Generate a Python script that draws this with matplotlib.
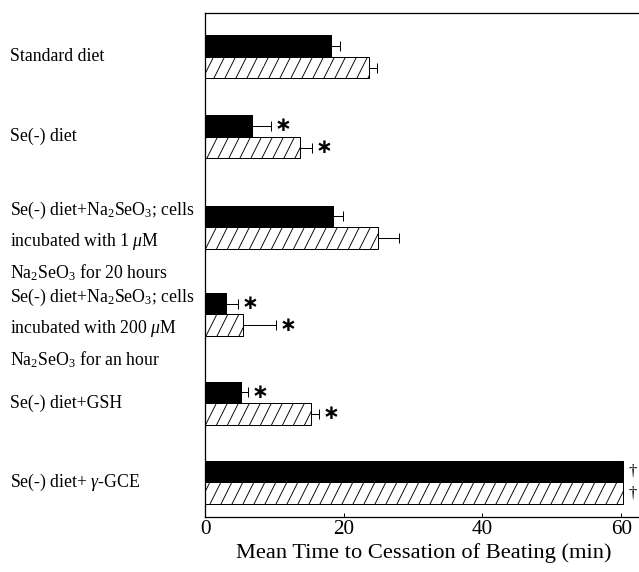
import numpy as np
import matplotlib
matplotlib.use("Agg")
import matplotlib.pyplot as plt
import matplotlib.hatch as mhatch
from matplotlib.path import Path
from matplotlib.transforms import blended_transform_factory

# data
groups = [
    "Standard diet",
    "Se(-) diet",
    "Se(-) diet+$\\mathrm{Na_2SeO_3}$; cells\nincubated with 1 $\\mu$M\n$\\mathrm{Na_2SeO_3}$ for 20 hours",
    "Se(-) diet+$\\mathrm{Na_2SeO_3}$; cells\nincubated with 200 $\\mu$M\n$\\mathrm{Na_2SeO_3}$ for an hour",
    "Se(-) diet+GSH",
    "Se(-) diet+ $\\gamma$-GCE",
]
group_pos = [5.75, 4.75, 3.62, 2.53, 1.42, 0.43]
black_vals = [18.2, 6.8, 18.5, 3.0, 5.2, 60.3]
black_err = [1.3, 2.7, 1.4, 1.8, 1.0, 0.0]
hatch_vals = [23.7, 13.7, 25.0, 5.5, 15.3, 60.3]
hatch_err = [1.1, 1.7, 3.0, 4.7, 1.2, 0.0]
black_marks = ["", "∗", "", "∗", "∗", "†"]
hatch_marks = ["", "∗", "", "∗", "∗", "†"]


# steeper "/" hatch like the printed figure
class SteepHatch(mhatch.HatchPatternBase):
    def __init__(self, hatch, density):
        self.num_lines = 9 if "/" in hatch else 0
        self.num_vertices = self.num_lines * 2

    def set_vertices_and_codes(self, vertices, codes):
        starts = np.arange(-3, 6) / 6.0
        vertices[0::2, 0] = starts
        vertices[0::2, 1] = 0.0
        vertices[1::2, 0] = starts + 0.5
        vertices[1::2, 1] = 1.0
        codes[0::2] = Path.MOVETO
        codes[1::2] = Path.LINETO


if hasattr(mhatch, "_hatch_types") and mhatch.NorthEastHatch in mhatch._hatch_types:
    mhatch._hatch_types[mhatch._hatch_types.index(mhatch.NorthEastHatch)] = SteepHatch

plt.rcParams["font.family"] = ["Liberation Serif", "DejaVu Serif", "DejaVu Sans"]
plt.rcParams["mathtext.fontset"] = "custom"
plt.rcParams["mathtext.rm"] = "Liberation Serif"
plt.rcParams["mathtext.it"] = "Liberation Serif:italic"
plt.rcParams["hatch.linewidth"] = 1.0

DPI = 66
fig = plt.figure(figsize=(639 / DPI, 572 / DPI), dpi=DPI)
ax = fig.add_axes([205 / 639, 55.3 / 572, 437 / 639, 504 / 572])

h = 0.27
y = np.array(group_pos)
ax.barh(y + h / 2, black_vals, height=h, color="black", edgecolor="black", linewidth=1.1)
ax.barh(y - h / 2, hatch_vals, height=h, color="white", edgecolor="black", linewidth=1.1, hatch="/")

ax.errorbar(black_vals, y + h / 2, xerr=[np.zeros(len(black_err)), black_err],
            fmt="none", ecolor="black", elinewidth=1.1, capsize=5.5, capthick=1.1)
ax.errorbar(hatch_vals, y - h / 2, xerr=[np.zeros(len(hatch_err)), hatch_err],
            fmt="none", ecolor="black", elinewidth=1.1, capsize=5.5, capthick=1.1)

# significance marks
for vals, errs, marks, yy in [(black_vals, black_err, black_marks, y + h / 2),
                              (hatch_vals, hatch_err, hatch_marks, y - h / 2)]:
    for v, e, m, yc in zip(vals, errs, marks, yy):
        if not m:
            continue
        if m == "∗":
            ax.annotate(m, (v + e, yc), xytext=(4, 0), textcoords="offset points",
                        ha="left", va="center", fontsize=22, fontweight="bold",
                        family=["DejaVu Sans"])
        else:
            ax.annotate(m, (v + e, yc), xytext=(6, 0), textcoords="offset points",
                        ha="left", va="center", fontsize=18)

# group labels on the left
label_tr = blended_transform_factory(fig.transFigure, ax.transData)
for lab, yc in zip(groups, group_pos):
    nlines = lab.count("\n") + 1
    ax.text(10 / 639, yc - 0.09 * (nlines - 1), lab, transform=label_tr,
            ha="left", va="center", fontsize=19.3, linespacing=1.65)

ax.set_xlim(0, 63)
ax.set_ylim(0, 6.3)
ax.set_xticks([0, 20, 40, 60])
ax.set_yticks([])
ax.tick_params(axis="x", direction="in", length=4.4, width=1.1, labelsize=23, pad=4)
for s in ax.spines.values():
    s.set_linewidth(1.4)
ax.set_xlabel("Mean Time to Cessation of Beating (min)", fontsize=24.5, labelpad=4)

fig.savefig("out.png", dpi=DPI)
